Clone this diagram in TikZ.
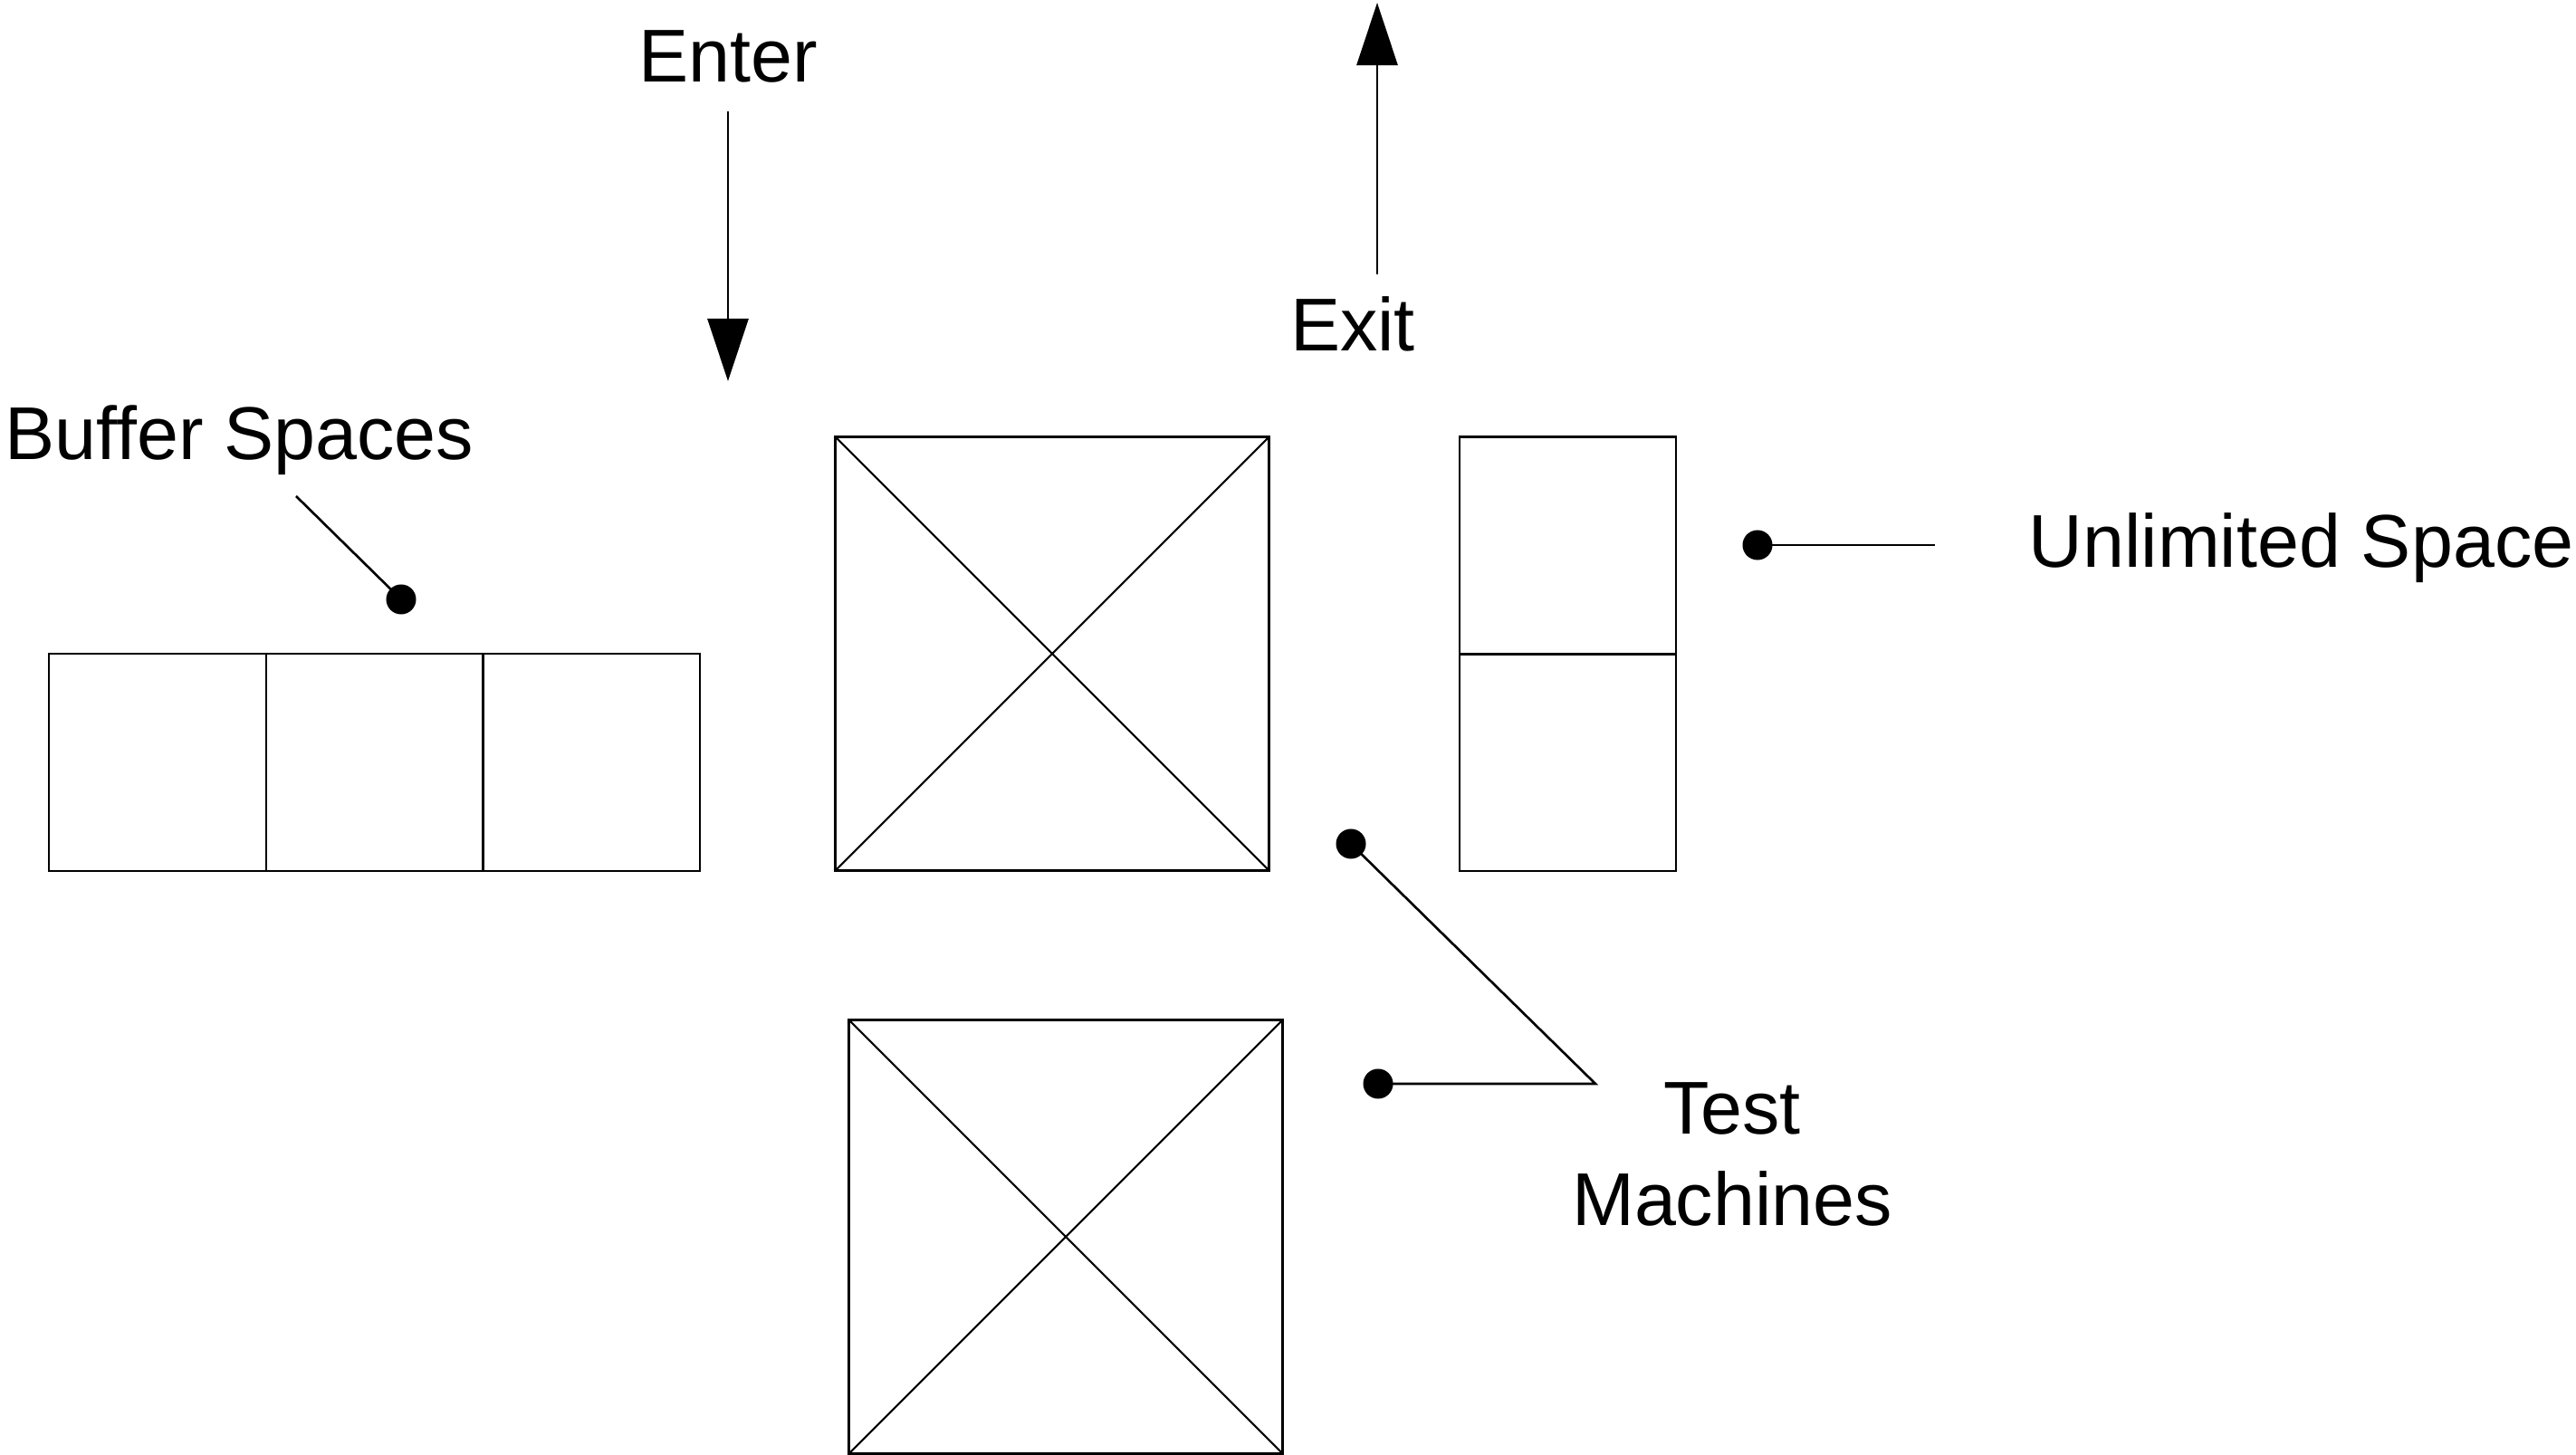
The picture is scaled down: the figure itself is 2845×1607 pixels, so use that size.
\documentclass[tikz,border=0pt]{standalone}
\usepackage{fontspec}
\setmainfont{Liberation Sans}
\usetikzlibrary{arrows.meta}
\tikzset{
  box/.style={draw, line width=0.7pt, inner sep=0pt, outer sep=0pt},
  sq/.style={box, minimum width=2.40cm, minimum height=2.40cm},
  machine/.style={box, minimum width=4.79cm, minimum height=4.79cm},
  dot/.style={circle, fill=black, inner sep=0pt, minimum size=0.33cm},
  lbl/.style={inner sep=0pt, font=\fontsize{23.5}{28.5}\selectfont},
  leader/.style={line width=0.75pt},
  flow/.style={line width=0.75pt, -{Triangle[length=0.69cm,width=0.45cm]}},
  cross/.style={line width=0.6pt}
}
\begin{document}
\begin{tikzpicture}[x=0.01cm, y=-0.01cm]
\useasboundingbox (0,0) rectangle (2845,1607);
% buffer spaces
\node[sq] (b1) at (174,842) {};
\node[sq] (b2) at (414,842) {};
\node[sq] (b3) at (653,842) {};
\node[lbl, anchor=base west] (buflbl) at (5,508) {Buffer Spaces};
\node[dot] (bufdot) at (443,662) {};
\coordinate (bufend) at (327,548);
\draw[leader] (bufend) -- (bufdot.center);
% enter / exit
\node[lbl, anchor=base] (enter) at (804,91) {Enter};
\coordinate (enterstart) at (804,123);
\coordinate (entertip) at (804,421);
\draw[flow] (enterstart) -- (entertip);
\node[lbl, anchor=base] (exit) at (1494,388) {Exit};
\coordinate (exitstart) at (1521,303);
\coordinate (exittip) at (1521,3);
\draw[flow] (exitstart) -- (exittip);
% test machines
\node[machine] (m1) at (1162,722) {};
\draw[cross] (m1.north west) -- (m1.south east) (m1.north east) -- (m1.south west);
\node[machine] (m2) at (1177,1366) {};
\draw[cross] (m2.north west) -- (m2.south east) (m2.north east) -- (m2.south west);
% unlimited space
\node[box, minimum width=2.39cm, minimum height=2.395cm] (u1) at (1731.5,602.5) {};
\node[box, minimum width=2.39cm, minimum height=2.395cm] (u2) at (1731.5,842) {};
\node[dot] (udot) at (1941,602) {};
\coordinate (uend) at (2137,602);
\draw[leader] (udot.center) -- (uend);
\node[lbl, anchor=base west] (ulbl) at (2240,627) {Unlimited Space};
% test machine labels
\node[dot] (tdot1) at (1492,932) {};
\node[dot] (tdot2) at (1522,1197) {};
\coordinate (tjoin) at (1762,1197);
\draw[leader] (tdot1.center) -- (tjoin) -- (tdot2.center);
\node[lbl, anchor=base, align=center] (tlbl) at (1913,1353) {Test\\Machines};
\end{tikzpicture}
\end{document}
